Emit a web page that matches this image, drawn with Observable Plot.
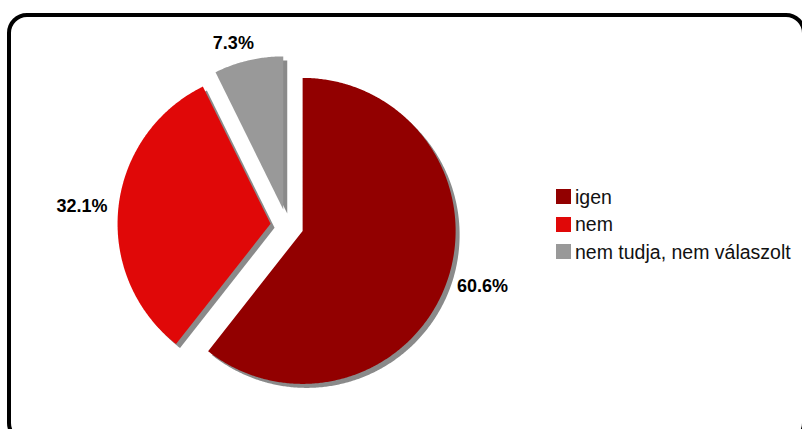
<!DOCTYPE html>
<html><head><meta charset="utf-8">
<script src="https://cdn.jsdelivr.net/npm/d3@7"></script>
<script src="https://cdn.jsdelivr.net/npm/@observablehq/plot@0.6"></script>
<style>
html,body{margin:0;padding:0;background:#fff;}
#wrap{position:relative;width:802px;height:429px;overflow:hidden;font-family:"Liberation Sans",Arial,sans-serif;}
#frame{position:absolute;left:7px;top:13px;width:799px;height:430px;box-sizing:border-box;border:4px solid #000;border-radius:20px;}
#chart{position:absolute;left:0;top:0;}
#legend{position:absolute;left:556px;top:183px;}
.item{display:flex;align-items:center;height:27.5px;font-size:19.5px;color:#111;padding-top:1px;box-sizing:border-box;}
.sw{width:15px;height:15px;margin-right:4px;flex-shrink:0;margin-top:-1px;}
</style></head><body>
<div id="wrap"><div id="frame"></div><div id="chart"></div><div id="legend"></div></div>
<script>
// data
const categories = ["igen", "nem", "nem tudja, nem válaszolt"];
const values = [60.6, 32.1, 7.3];
const valueLabels = ["60.6%", "32.1%", "7.3%"];
const colors = ["#920000", "#e00808", "#999999"];

// layout
const cx = 286.5, cy = 225, R = 153, explode = 0.108, labelGap = 1.18;
const labelFont = "bold 18px 'Liberation Sans', Arial, sans-serif";
const canvas = document.createElement("canvas").getContext("2d");
canvas.font = labelFont;

const arcs = d3.pie().sort(null).value(d => d)(values);
const sliceData = [];
const labelData = [];
arcs.forEach((p, i) => {
  const mid = (p.startAngle + p.endAngle) / 2;
  const sx = Math.sin(mid), sy = -Math.cos(mid);
  const ox = sx * explode, oy = sy * explode;
  const pts = [{x: ox, y: oy}];
  const n = Math.max(2, Math.ceil((p.endAngle - p.startAngle) / (Math.PI / 360)));
  for (let j = 0; j <= n; j++) {
    const a = p.startAngle + (p.endAngle - p.startAngle) * j / n;
    pts.push({x: ox + Math.sin(a), y: oy - Math.cos(a)});
  }
  sliceData.push({cat: categories[i], color: colors[i], pts});
  const halfW = canvas.measureText(valueLabels[i]).width / 2;
  const halfH = 6.5;
  labelData.push({
    text: valueLabels[i],
    x: sx * labelGap + (sx + Math.sign(sx)) / 2 * halfW / R,
    y: sy * labelGap + sy * halfH / R
  });
});

const marks = [];
sliceData.forEach(s => marks.push(Plot.line(s.pts, {x: "x", y: "y", fill: "#8a8a8a", stroke: "none", dx: 4, dy: 4, curve: "linear"})));
sliceData.forEach(s => marks.push(Plot.line(s.pts, {x: "x", y: "y", fill: s.color, stroke: "none", curve: "linear"})));
marks.push(Plot.text(labelData, {x: "x", y: "y", text: "text", fontWeight: "bold", fontSize: 18, fill: "#000",
  fontFamily: "'Liberation Sans', Arial, sans-serif"}));

const chart = Plot.plot({
  width: 802, height: 429,
  marginTop: 0, marginRight: 0, marginBottom: 0, marginLeft: 0,
  x: {domain: [-1, 1], range: [cx - R, cx + R], axis: null},
  y: {domain: [-1, 1], range: [cy - R, cy + R], axis: null},
  style: {background: "transparent", overflow: "visible"},
  marks
});
document.getElementById("chart").appendChild(chart);

const legend = document.getElementById("legend");
categories.forEach((c, i) => {
  const item = document.createElement("div");
  item.className = "item";
  const sw = document.createElement("div");
  sw.className = "sw";
  sw.style.background = colors[i];
  const t = document.createElement("span");
  t.textContent = c;
  item.appendChild(sw); item.appendChild(t);
  legend.appendChild(item);
});
</script>
</body></html>
